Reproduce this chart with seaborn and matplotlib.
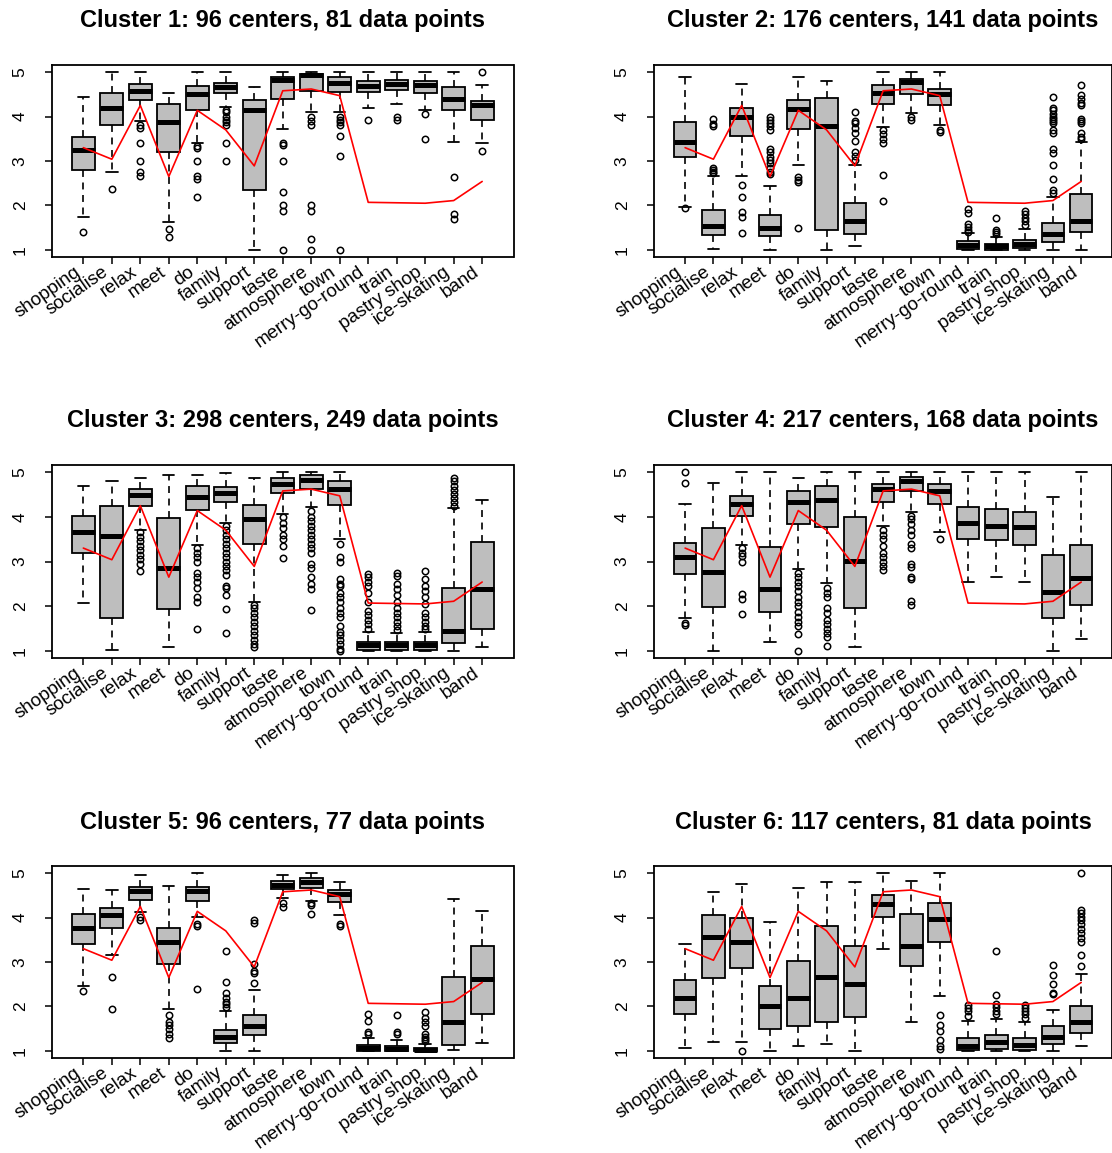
"""Boxplots of survey answers per cluster, with the overall mean drawn in red."""

import matplotlib
matplotlib.use('Agg')  # no display
import matplotlib.pyplot as plt
import matplotlib.transforms as mtransforms
import numpy as np
import seaborn as sns

# --- data -----------------------------------------------------------------
categories = ["shopping", "socialise", "relax", "meet", "do", "family", "support",
              "taste", "atmosphere", "town", "merry-go-round", "train",
              "pastry shop", "ice-skating", "band"]

# mean over all data points (same red line in every panel)
overall_mean = [3.30, 3.04, 4.25, 2.65, 4.14, 3.70, 2.89, 4.58, 4.62, 4.47,
                2.07, 2.06, 2.05, 2.11, 2.54]

titles = ["Cluster 1: 96 centers, 81 data points",
          "Cluster 2: 176 centers, 141 data points",
          "Cluster 3: 298 centers, 249 data points",
          "Cluster 4: 217 centers, 168 data points",
          "Cluster 5: 96 centers, 77 data points",
          "Cluster 6: 117 centers, 81 data points"]

# Cluster 1
c1_lower = [1.74, 2.75, 3.90, 1.62, 3.40, 4.21, 1.00, 3.72, 4.10, 4.11, 4.20, 4.28, 4.14, 3.42, 3.41]
c1_q1 = [2.79, 3.80, 4.38, 3.20, 4.15, 4.53, 2.35, 4.39, 4.58, 4.55, 4.55, 4.60, 4.53, 4.15, 3.93]
c1_median = [3.24, 4.20, 4.58, 3.87, 4.50, 4.66, 4.14, 4.83, 4.94, 4.75, 4.69, 4.73, 4.71, 4.39, 4.25]
c1_q3 = [3.53, 4.54, 4.73, 4.28, 4.68, 4.75, 4.38, 4.89, 4.96, 4.89, 4.80, 4.83, 4.80, 4.67, 4.36]
c1_upper = [4.44, 5.00, 5.00, 4.54, 5.00, 5.00, 4.66, 5.00, 5.00, 5.00, 5.00, 5.00, 5.00, 5.00, 4.71]
c1_outliers = [[1.40], [2.36], [3.80, 3.75, 3.40, 3.00, 2.75, 2.67], [1.47, 1.30],
               [3.33, 3.30, 3.00, 2.67, 2.60, 2.20],
               [4.15, 4.10, 4.00, 3.93, 3.87, 3.80, 3.40, 3.00], [],
               [3.40, 3.35, 3.00, 2.30, 2.00, 1.88, 1.00],
               [4.00, 3.90, 3.80, 2.00, 1.87, 1.25, 1.00],
               [4.00, 3.93, 3.87, 3.80, 3.57, 3.12, 1.00],
               [3.93], [4.00, 3.92], [4.06, 3.50], [2.63, 1.80, 1.70], [5.00, 3.23]]

# Cluster 2
c2_lower = [1.97, 1.02, 2.67, 1.00, 2.91, 1.00, 1.08, 3.76, 4.08, 3.80, 1.00, 1.00, 1.00, 1.00, 1.00]
c2_q1 = [3.09, 1.34, 3.57, 1.32, 3.72, 1.45, 1.36, 4.29, 4.51, 4.25, 1.03, 1.00, 1.04, 1.17, 1.40]
c2_median = [3.42, 1.53, 3.98, 1.49, 4.17, 3.79, 1.64, 4.54, 4.78, 4.51, 1.11, 1.08, 1.13, 1.36, 1.66]
c2_q3 = [3.87, 1.89, 4.20, 1.79, 4.38, 4.41, 2.05, 4.70, 4.85, 4.62, 1.19, 1.13, 1.23, 1.60, 2.25]
c2_upper = [4.89, 2.67, 4.73, 2.44, 4.90, 4.79, 2.90, 5.00, 5.00, 5.00, 1.38, 1.30, 1.47, 2.20, 3.42]
c2_outliers = [[1.94], [3.95, 3.84, 3.78, 2.84, 2.80, 2.76, 2.72],
               [2.46, 2.19, 1.86, 1.73, 1.38],
               [4.00, 3.93, 3.85, 3.78, 3.70, 3.28, 3.20, 3.10, 3.02, 2.95, 2.85, 2.75, 2.70],
               [2.65, 2.58, 2.52, 1.50], [],
               [4.10, 3.91, 3.85, 3.75, 3.62, 3.45, 3.20, 3.12, 3.03],
               [3.70, 3.60, 3.50, 3.40, 2.69, 2.11], [4.00, 3.93], [3.70, 3.65],
               [1.92, 1.82, 1.58, 1.52, 1.45, 1.40], [1.72, 1.45, 1.40, 1.36],
               [1.88, 1.80, 1.72, 1.65, 1.57],
               [4.43, 4.20, 4.15, 4.05, 4.00, 3.95, 3.90, 3.85, 3.70, 3.62, 3.28, 3.18,
                2.90, 2.60, 2.35, 2.28],
               [4.70, 4.48, 4.40, 4.30, 4.25, 3.95, 3.90, 3.85, 3.62, 3.55, 3.50]]

# Cluster 3
c3_lower = [2.06, 1.02, 3.71, 1.09, 3.37, 3.86, 2.10, 4.06, 4.21, 3.50, 1.00, 1.00, 1.00, 1.00, 1.09]
c3_q1 = [3.18, 1.73, 4.24, 1.93, 4.16, 4.33, 3.39, 4.53, 4.62, 4.27, 1.02, 1.02, 1.02, 1.18, 1.50]
c3_median = [3.65, 3.56, 4.49, 2.85, 4.44, 4.53, 3.95, 4.73, 4.83, 4.62, 1.14, 1.13, 1.14, 1.45, 2.38]
c3_q3 = [4.02, 4.25, 4.63, 3.98, 4.68, 4.66, 4.27, 4.87, 4.93, 4.80, 1.20, 1.20, 1.20, 2.40, 3.43]
c3_upper = [4.68, 4.81, 4.88, 4.93, 4.93, 4.98, 4.88, 5.00, 5.00, 5.00, 1.43, 1.40, 1.43, 4.19, 4.38]
c3_outliers = [[], [],
               [3.65, 3.55, 3.45, 3.35, 3.25, 3.15, 3.05, 2.95, 2.79], [],
               [3.30, 3.20, 3.10, 3.00, 2.75, 2.65, 2.55, 2.40, 2.20, 2.10, 1.48],
               [3.80, 3.70, 3.60, 3.50, 3.40, 3.30, 3.20, 3.10, 3.00, 2.90, 2.80, 2.70,
                2.45, 2.40, 2.25, 1.93, 1.40],
               [2.03, 1.95, 1.85, 1.75, 1.65, 1.55, 1.45, 1.35, 1.25, 1.15, 1.08],
               [4.00, 3.87, 3.75, 3.60, 3.50, 3.35, 3.08],
               [4.12, 4.00, 3.90, 3.80, 3.70, 3.60, 3.50, 3.40, 3.30, 3.20, 2.95, 2.85,
                2.65, 2.50, 2.38, 1.92],
               [3.40, 3.10, 3.00, 2.60, 2.50, 2.45, 2.30, 2.20, 2.10, 1.95, 1.85, 1.75,
                1.55, 1.42, 1.35, 1.25, 1.15, 1.05, 1.00],
               [2.72, 2.65, 2.55, 2.45, 2.30, 2.10, 1.90, 1.80, 1.70, 1.60, 1.50],
               [2.75, 2.68, 2.50, 2.38, 2.25, 2.10, 1.95, 1.85, 1.75, 1.65, 1.55, 1.47],
               [2.78, 2.60, 2.45, 2.35, 2.20, 2.05, 1.85, 1.75, 1.65, 1.55, 1.50],
               [4.87, 4.80, 4.70, 4.60, 4.50, 4.42, 4.33, 4.25], []]

# Cluster 4
c4_lower = [1.73, 1.00, 3.37, 1.19, 2.83, 2.51, 1.09, 3.80, 4.10, 3.67, 2.55, 2.66, 2.53, 1.00, 1.26]
c4_q1 = [2.73, 1.99, 4.02, 1.86, 3.84, 3.78, 1.95, 4.34, 4.57, 4.28, 3.50, 3.48, 3.36, 1.74, 2.02]
c4_median = [3.09, 2.77, 4.28, 2.38, 4.33, 4.38, 3.02, 4.62, 4.81, 4.57, 3.87, 3.80, 3.77, 2.31, 2.62]
c4_q3 = [3.42, 3.76, 4.47, 3.33, 4.57, 4.69, 3.99, 4.74, 4.89, 4.73, 4.21, 4.18, 4.10, 3.15, 3.38]
c4_upper = [4.28, 4.75, 5.00, 5.00, 4.87, 5.00, 5.00, 5.00, 5.00, 5.00, 5.00, 5.00, 5.00, 4.44, 5.00]
c4_outliers = [[5.00, 4.75, 1.62, 1.58], [],
               [3.30, 3.20, 3.12, 3.00, 2.28, 2.15, 1.82], [],
               [2.75, 2.65, 2.55, 2.45, 2.35, 2.20, 2.10, 2.00, 1.88, 1.75, 1.65, 1.55,
                1.38, 1.00],
               [2.40, 2.30, 2.20, 1.95, 1.85, 1.70, 1.60, 1.50, 1.40, 1.30, 1.10], [],
               [3.70, 3.60, 3.50, 3.35, 3.20, 3.10, 3.00, 2.90, 2.82],
               [4.02, 3.95, 3.85, 3.70, 3.60, 3.40, 3.30, 2.95, 2.87, 2.65, 2.60, 2.12, 2.02],
               [3.50], [], [], [], [], []]

# Cluster 5
c5_lower = [2.46, 3.16, 4.12, 1.94, 4.01, 1.00, 1.00, 4.44, 4.38, 4.06, 1.00, 1.00, 1.00, 1.03, 1.17]
c5_q1 = [3.40, 3.76, 4.40, 2.96, 4.38, 1.17, 1.36, 4.65, 4.66, 4.34, 1.00, 1.00, 1.00, 1.13, 1.83]
c5_median = [3.76, 4.06, 4.59, 3.45, 4.59, 1.32, 1.55, 4.74, 4.81, 4.53, 1.06, 1.05, 1.03, 1.66, 2.61]
c5_q3 = [4.08, 4.21, 4.68, 3.76, 4.68, 1.47, 1.80, 4.83, 4.90, 4.61, 1.14, 1.10, 1.07, 2.67, 3.37]
c5_upper = [4.65, 4.61, 4.96, 4.70, 5.00, 1.89, 2.36, 4.96, 5.00, 4.79, 1.28, 1.25, 1.15, 4.41, 4.14]
c5_outliers = [[2.34], [2.67, 1.94], [4.02, 3.95],
               [1.80, 1.65, 1.58, 1.50, 1.38, 1.28], [3.86, 3.80, 2.40],
               [3.24, 2.56, 2.30, 2.20, 2.10, 2.05, 1.98],
               [3.95, 3.88, 2.95, 2.80, 2.75, 2.53], [4.32, 4.23], [4.33, 4.28, 4.08],
               [3.86, 3.80], [1.82, 1.68, 1.42, 1.38], [1.81, 1.42, 1.38],
               [1.88, 1.75, 1.65, 1.55, 1.38, 1.32, 1.27, 1.22], [], []]

# Cluster 6
c6_lower = [1.06, 1.20, 1.20, 1.00, 1.10, 1.15, 1.00, 3.30, 1.65, 2.24, 1.00, 1.00, 1.00, 1.00, 1.12]
c6_q1 = [1.83, 2.64, 2.86, 1.50, 1.56, 1.65, 1.77, 4.01, 2.91, 3.46, 1.01, 1.04, 1.02, 1.15, 1.40]
c6_median = [2.20, 3.57, 3.44, 2.00, 2.20, 2.67, 2.50, 4.30, 3.36, 3.97, 1.10, 1.20, 1.14, 1.31, 1.66]
c6_q3 = [2.60, 4.06, 3.99, 2.46, 3.03, 3.82, 3.37, 4.50, 4.08, 4.32, 1.29, 1.36, 1.29, 1.55, 2.00]
c6_upper = [3.40, 4.57, 4.75, 3.90, 4.66, 4.79, 4.79, 5.00, 4.83, 5.00, 1.67, 1.72, 1.66, 1.92, 2.73]
c6_outliers = [[], [], [1.00], [], [], [], [], [], [],
               [1.81, 1.58, 1.45, 1.24, 1.10, 1.05], [2.03, 1.97, 1.90, 1.78],
               [3.24, 2.26, 2.05, 1.98, 1.90, 1.84], [2.04, 1.97, 1.90, 1.82, 1.75],
               [2.94, 2.71, 2.50, 2.30, 2.27],
               [5.00, 4.17, 4.10, 4.02, 3.95, 3.85, 3.75, 3.65, 3.55, 3.45, 3.15, 2.90]]

clusters = [
    (c1_lower, c1_q1, c1_median, c1_q3, c1_upper, c1_outliers),
    (c2_lower, c2_q1, c2_median, c2_q3, c2_upper, c2_outliers),
    (c3_lower, c3_q1, c3_median, c3_q3, c3_upper, c3_outliers),
    (c4_lower, c4_q1, c4_median, c4_q3, c4_upper, c4_outliers),
    (c5_lower, c5_q1, c5_median, c5_q3, c5_upper, c5_outliers),
    (c6_lower, c6_q1, c6_median, c6_q3, c6_upper, c6_outliers),
]

# --- style -------------------------------------------------------------------
sns.set_theme(style="ticks", rc={
    "axes.edgecolor": "black", "axes.linewidth": 1.3,
    "xtick.color": "black", "ytick.color": "black", "text.color": "black",
    "lines.scale_dashes": False,
})
plt.rcParams['font.family'] = ['Liberation Sans', 'DejaVu Sans']

W, H = 1112, 1153
fig = plt.figure(figsize=(W / 100, H / 100), dpi=100)

# panel frames in pixels: (left, right) per column, (top, bottom) per row
cols = [(52, 513.5), (654, 1112.3)]
rows = [(65, 257), (465, 658), (866, 1058)]

positions = np.arange(1, len(categories) + 1)
# nudge the slanted labels a few pixels to the left of their ticks
label_shift = mtransforms.ScaledTranslation(-5 / 100, 0, fig.dpi_scale_trans)

for i, (title, data) in enumerate(zip(titles, clusters)):
    lower, q1, med, q3, upper, outliers = data
    (x0, x1), (y0, y1) = cols[i % 2], rows[i // 2]
    ax = fig.add_axes([x0 / W, 1 - y1 / H, (x1 - x0) / W, (y1 - y0) / H])

    stats = [dict(whislo=lo, q1=a, med=m, q3=b, whishi=hi, fliers=f)
             for lo, a, m, b, hi, f in zip(lower, q1, med, q3, upper, outliers)]
    ax.bxp(stats, positions=positions, widths=0.8, capwidths=0.4,
           patch_artist=True, manage_ticks=False,
           boxprops=dict(facecolor='#BEBEBE', edgecolor='black', linewidth=1.3),
           medianprops=dict(color='black', linewidth=3.6, solid_capstyle='butt'),
           whiskerprops=dict(color='black', linewidth=1.2, linestyle=(0, (5, 4))),
           capprops=dict(color='black', linewidth=1.3),
           flierprops=dict(marker='o', markerfacecolor='none', markeredgecolor='black',
                           markersize=4.6, markeredgewidth=1.1))

    sns.lineplot(x=positions, y=overall_mean, color='red', linewidth=1.2,
                 ax=ax, zorder=5, legend=False)

    ax.set_xlim(-0.1, len(categories) + 1.1)
    ax.set_ylim(0.84, 5.16)
    ax.tick_params(axis='both', direction='out', length=5, width=1.1,
                   bottom=True, left=True)
    ax.tick_params(axis='x', pad=4.5)
    ax.tick_params(axis='y', pad=12.5)
    ax.set_xticks(positions)
    ax.set_xticklabels(categories, rotation=35, ha='right', va='center',
                       rotation_mode='anchor', fontsize=13.5)
    for lab in ax.get_xticklabels():
        lab.set_transform(lab.get_transform() + label_shift)
    ax.set_yticks([1, 2, 3, 4, 5])
    ax.set_yticklabels(['1', '2', '3', '4', '5'], rotation=90, va='center', fontsize=12.5)
    for side in ax.spines.values():
        side.set_visible(True)
        side.set_linewidth(1.3)
    ax.set_xlabel('')
    ax.set_ylabel('')
    ax.set_title(title, fontsize=17, fontweight='bold', pad=27)

fig.savefig('out.png', dpi=100)
plt.close(fig)
